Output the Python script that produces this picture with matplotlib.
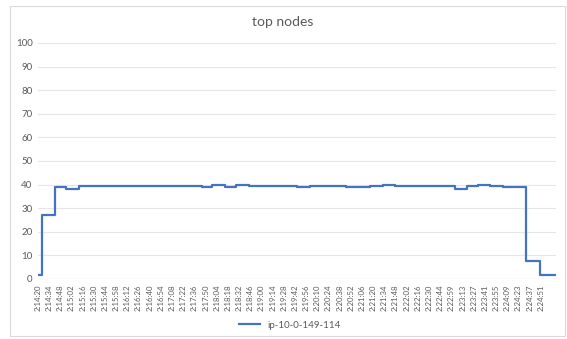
import matplotlib
matplotlib.use("Agg")
import matplotlib.pyplot as plt
from matplotlib.patches import Rectangle

# Category labels shown on the time axis (one every 14 samples)
time_labels = [
    "2:14:20", "2:14:34", "2:14:48", "2:15:02", "2:15:16", "2:15:30", "2:15:44",
    "2:15:58", "2:16:12", "2:16:26", "2:16:40", "2:16:54", "2:17:08", "2:17:22",
    "2:17:36", "2:17:50", "2:18:04", "2:18:18", "2:18:32", "2:18:46", "2:19:00",
    "2:19:14", "2:19:28", "2:19:42", "2:19:56", "2:20:10", "2:20:24", "2:20:38",
    "2:20:52", "2:21:06", "2:21:20", "2:21:34", "2:21:48", "2:22:02", "2:22:16",
    "2:22:30", "2:22:44", "2:22:59", "2:23:13", "2:23:27", "2:23:41", "2:23:55",
    "2:24:09", "2:24:23", "2:24:37", "2:24:51",
]

# Sample index (seconds since 2:14:20) where the CPU level changes, and the level held from there
change_at = [0, 5, 21, 35, 51, 68, 96, 172, 205, 218, 234, 248, 264, 309, 324,
             341, 356, 386, 416, 432, 447, 462, 478, 507, 522, 537, 551, 566,
             582, 601, 612, 629, 649]
levels = [1.5, 27.0, 39.0, 38.3, 39.2, 39.6, 39.2, 39.5, 39.1, 39.9, 39.0, 39.9,
          39.2, 39.6, 39.1, 39.4, 39.6, 38.8, 39.3, 39.9, 39.4, 39.2, 39.5, 39.2,
          38.3, 39.3, 39.8, 39.4, 38.8, 39.1, 7.5, 1.5, 1.5]

series_name = "ip-10-0-149-114"
y_ticks = list(range(0, 101, 10))

plt.rcParams["font.family"] = ["Lato", "DejaVu Sans"]

W, H = 567, 339
fig = plt.figure(figsize=(W / 100, H / 100), dpi=100)
fig.patch.set_facecolor("white")

# outer chart frame
fig.patches.append(Rectangle((10 / W, 1 - 336 / H), 555 / W, 330 / H,
                             transform=fig.transFigure, fill=False,
                             edgecolor="#d9d9d9", linewidth=0.8))

ax = fig.add_axes([38 / W, 1 - 279 / H, 518 / W, 236 / H])
ax.step(change_at, levels, where="post", color="#4472C4", linewidth=1.6,
        label=series_name)

ax.set_xlim(0, change_at[-1])
ax.set_ylim(0, 100)
ax.set_yticks(y_ticks)
ax.set_yticklabels([str(v) for v in y_ticks], color="#595959", fontsize=7)
ax.set_xticks([i * 14 for i in range(len(time_labels))])
ax.set_xticklabels(time_labels, rotation=90, color="#595959", fontsize=5.6)
ax.tick_params(length=0, pad=4)
ax.grid(axis="y", color="#e6e6e6", linewidth=0.8)
ax.set_axisbelow(True)
for s in ax.spines.values():
    s.set_visible(False)
ax.axhline(0, color="#d9d9d9", linewidth=0.8, zorder=0)

fig.text(283 / W, 1 - 22 / H, "top nodes", ha="center", va="center",
         color="#595959", fontsize=10)

fig.legend(loc="center", bbox_to_anchor=(290 / W, 1 - 325 / H), frameon=False,
           fontsize=7, handlelength=2.2, labelcolor="#595959")

fig.savefig("out.png", dpi=100, facecolor="white")
